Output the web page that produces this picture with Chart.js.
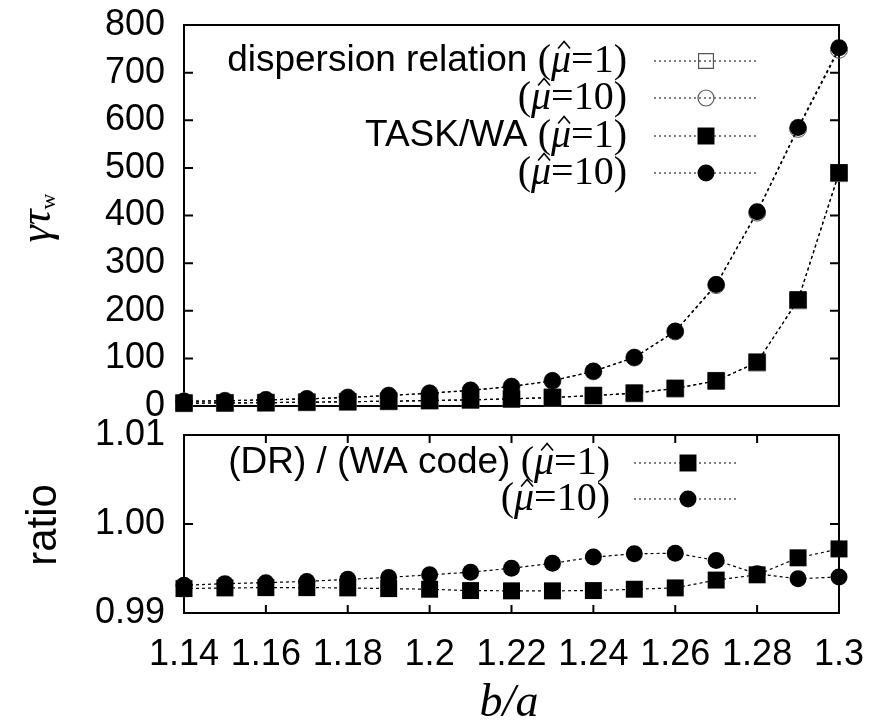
<!DOCTYPE html>
<html>
<head>
<meta charset="utf-8">
<script src="https://cdn.jsdelivr.net/npm/chart.js@4.4.1/dist/chart.umd.min.js"></script>
<style>
  html, body { margin: 0; padding: 0; background: #fff; }
  #wrap { position: relative; width: 872px; height: 722px; overflow: hidden; }
  #topChart { position: absolute; left: 0; top: 0; }
  #ratioChart { position: absolute; left: 0; top: 410px; }
</style>
</head>
<body>
<div id="wrap">
  <canvas id="topChart" width="872" height="430"></canvas>
  <canvas id="ratioChart" width="872" height="312"></canvas>
</div>

<script>
// ================= DATA =================

const bOverA = [1.14, 1.15, 1.16, 1.17, 1.18, 1.19, 1.20, 1.21, 1.22, 1.23, 1.24, 1.25, 1.26, 1.27, 1.28, 1.29, 1.30];

// growth rate (gamma * tau_w)
const drMu1  = [6, 6.5, 7, 8, 9, 10, 11.4, 12.9, 14.9, 17.9, 21.8, 26.8, 36.7, 52.7, 91.5, 222, 489];
const drMu10 = [9.9, 10.9, 12.9, 14.9, 17.9, 21.9, 26.8, 32.8, 40.8, 52.8, 72.7, 101.7, 156.5, 254, 406, 582, 748];
const waMu1  = [6, 6.5, 7, 8, 9, 10, 11.5, 13, 15, 18, 22, 27, 37, 53, 92, 223, 490];
const waMu10 = [10, 11, 13, 15, 18, 22, 27, 33, 41, 53, 73, 102, 157, 255, 408, 585, 752];

// ratio (DR) / (WA code)
const ratioMu1  = [0.99274, 0.99282, 0.99285, 0.99285, 0.99282, 0.99274, 0.99267, 0.99252, 0.99249, 0.99249, 0.99252, 0.99267, 0.99282, 0.99370, 0.99429, 0.99620, 0.99720];
const ratioMu10 = [0.99311, 0.99330, 0.99341, 0.99355, 0.99378, 0.99400, 0.99429, 0.99459, 0.99503, 0.99558, 0.99628, 0.99665, 0.99672, 0.99591, 0.99440, 0.99385, 0.99405];

const xTickValues = [1.14, 1.16, 1.18, 1.20, 1.22, 1.24, 1.26, 1.28, 1.30];
const xTickLabels = ["1.14", "1.16", "1.18", "1.2", "1.22", "1.24", "1.26", "1.28", "1.3"];
const gammaTicks  = [0, 100, 200, 300, 400, 500, 600, 700, 800];
const ratioTickValues = [0.99, 1.00, 1.01];
const ratioTickLabels = ["0.99", "1.00", "1.01"];


// ================= HELPERS =================

const SANS = "'Liberation Sans', Arial, sans-serif";
const SERIF = "'Liberation Serif', 'Times New Roman', serif";

function points(ys) {
  return bOverA.map((x, i) => ({ x: x, y: ys[i] }));
}

function series(label, ys, style, filled, order) {
  return {
    label: label,
    data: points(ys),
    order: order,
    clip: false,
    borderColor: "#000",
    borderWidth: 1.2,
    borderDash: [3, 3],
    pointStyle: style,
    pointRadius: style === "rect" ? 12 : 8.5,
    pointBorderWidth: filled ? 0 : 1,
    pointBorderColor: filled ? "#000" : "#555",
    pointBackgroundColor: filled ? "#000" : "rgba(0,0,0,0)",
    tension: 0
  };
}

// mixed font text "(mu-hat=val)", drawn right aligned
function muText(prefix, val) {
  const segs = [];
  if (prefix) segs.push({ t: prefix, f: "37px " + SANS });
  segs.push({ t: "(", f: "40px " + SERIF });
  segs.push({ t: "\u03bc", f: "italic 40px " + SERIF, hat: true });
  segs.push({ t: "=" + val + ")", f: "40px " + SERIF });
  return segs;
}

function drawSegs(ctx, segs, right, y) {
  let w = 0;
  segs.forEach(s => { ctx.font = s.f; w += ctx.measureText(s.t).width; });
  let x = right - w;
  ctx.textAlign = "left";
  ctx.textBaseline = "middle";
  segs.forEach(s => {
    ctx.font = s.f;
    const m = ctx.measureText(s.t);
    ctx.fillText(s.t, x, y);
    if (s.hat) {
      const cx = x + m.width / 2 + 3;
      const top = y - m.actualBoundingBoxAscent - 4;
      ctx.save();
      ctx.beginPath();
      ctx.lineWidth = 1.6;
      ctx.strokeStyle = "#000";
      ctx.moveTo(cx - 6, top);
      ctx.lineTo(cx, top - 7);
      ctx.lineTo(cx + 6, top);
      ctx.stroke();
      ctx.restore();
    }
    x += m.width;
  });
}

function drawLegend(ctx, rows, textRight, x1, x2, mx) {
  ctx.save();
  ctx.fillStyle = "#000";
  rows.forEach(r => {
    drawSegs(ctx, r.segs, textRight, r.y);
    ctx.beginPath();
    ctx.setLineDash([2, 3]);
    ctx.lineWidth = 1.2;
    ctx.strokeStyle = "#000";
    ctx.moveTo(x1, r.y);
    ctx.lineTo(x2, r.y);
    ctx.stroke();
    ctx.setLineDash([]);
    ctx.fillStyle = r.filled ? "#000" : "rgba(0,0,0,0)";
    ctx.strokeStyle = r.filled ? "#000" : "#555";
    Chart.helpers.drawPoint(ctx, {
      pointStyle: r.style,
      radius: r.style === "rect" ? (r.filled ? 12 : 10.5) : (r.filled ? 8.5 : 8),
      borderWidth: r.filled ? 0 : 1,
      rotation: 0
    }, mx, r.y);
    ctx.fillStyle = "#000";
  });
  ctx.restore();
}

// border plus inward tics, gnuplot style
function frame(xTicks, yTicks) {
  return {
    id: "frame",
    beforeDatasetsDraw(chart) {
      const { ctx, chartArea: a } = chart;
      const xs = chart.scales.x, ys = chart.scales.y;
      ctx.save();
      ctx.strokeStyle = "#000";
      ctx.lineWidth = 2;
      ctx.strokeRect(a.left, a.top, a.right - a.left, a.bottom - a.top);
      ctx.beginPath();
      xTicks.forEach(v => {
        const px = xs.getPixelForValue(v);
        ctx.moveTo(px, a.bottom); ctx.lineTo(px, a.bottom - 8);
        ctx.moveTo(px, a.top); ctx.lineTo(px, a.top + 8);
      });
      yTicks.forEach(v => {
        const py = ys.getPixelForValue(v);
        ctx.moveTo(a.left, py); ctx.lineTo(a.left + 9, py);
        ctx.moveTo(a.right, py); ctx.lineTo(a.right - 9, py);
      });
      ctx.stroke();
      ctx.restore();
    }
  };
}

function fitY(s) {
  s.width = 184;
  s.paddingTop = 0;
  s.paddingBottom = 0;
}


// ================= TOP CHART =================

const topLabels = {
  id: "topLabels",
  afterDraw(chart) {
    const ctx = chart.ctx;
    ctx.save();
    ctx.fillStyle = "#000";
    // y title: gamma tau_w, rotated
    ctx.translate(38, 218);
    ctx.rotate(-Math.PI / 2);
    ctx.textBaseline = "alphabetic";
    ctx.textAlign = "left";
    ctx.font = "italic 44px " + SERIF;
    const main = "\u03b3\u03c4";
    const w1 = ctx.measureText(main).width;
    ctx.font = "22px " + SERIF;
    const w2 = ctx.measureText("w").width;
    const x0 = -(w1 + w2) / 2;
    ctx.font = "italic 44px " + SERIF;
    ctx.fillText(main, x0, 12);
    ctx.font = "22px " + SERIF;
    ctx.fillText("w", x0 + w1, 17);
    ctx.restore();

    drawLegend(ctx, [
      { segs: muText("dispersion relation ", 1), y: 61, style: "rect", filled: false },
      { segs: muText("", 10), y: 98, style: "circle", filled: false },
      { segs: muText("TASK/WA ", 1), y: 136, style: "rect", filled: true },
      { segs: muText("", 10), y: 173, style: "circle", filled: true }
    ], 627, 654, 758, 706);
  }
};

new Chart(document.getElementById("topChart"), {
  type: "line",
  data: {
    datasets: [
      series("dispersion relation (mu=1)", drMu1, "rect", false, 3),
      series("dispersion relation (mu=10)", drMu10, "circle", false, 2),
      series("TASK/WA (mu=1)", waMu1, "rect", true, 1),
      series("TASK/WA (mu=10)", waMu10, "circle", true, 0)
    ]
  },
  options: {
    responsive: false,
    animation: false,
    layout: { padding: { top: 25, right: 33, bottom: 24, left: 0 } },
    plugins: { legend: { display: false }, tooltip: { enabled: false } },
    scales: {
      x: { type: "linear", min: 1.14, max: 1.30, display: false },
      y: {
        type: "linear",
        min: 0,
        max: 800,
        afterBuildTicks: s => { s.ticks = gammaTicks.map(v => ({ value: v })); },
        afterFit: fitY,
        grid: { display: false, drawTicks: false },
        border: { display: false },
        ticks: {
          color: "#000",
          padding: 19,
          font: { family: SANS, size: 36 },
          callback: v => String(v)
        }
      }
    }
  },
  plugins: [frame([], gammaTicks), topLabels]
});


// ================= RATIO CHART =================

const ratioLabels = {
  id: "ratioLabels",
  afterDraw(chart) {
    const ctx = chart.ctx;
    ctx.save();
    ctx.fillStyle = "#000";
    ctx.translate(44, 115);
    ctx.rotate(-Math.PI / 2);
    ctx.textAlign = "center";
    ctx.textBaseline = "middle";
    ctx.font = "42px " + SANS;
    ctx.fillText("ratio", 0, 0);
    ctx.restore();

    ctx.save();
    ctx.fillStyle = "#000";
    ctx.textAlign = "center";
    ctx.textBaseline = "alphabetic";
    ctx.font = "italic 46px " + SERIF;
    ctx.fillText("b/a", 509, 306);
    ctx.restore();

    drawLegend(ctx, [
      { segs: muText("(DR) / (WA code) ", 1), y: 53, style: "rect", filled: true },
      { segs: muText("", 10), y: 89, style: "circle", filled: true }
    ], 610, 634, 737, 688);
  }
};

new Chart(document.getElementById("ratioChart"), {
  type: "line",
  data: {
    datasets: [
      series("(DR)/(WA code) (mu=1)", ratioMu1, "rect", true, 1),
      series("(DR)/(WA code) (mu=10)", ratioMu10, "circle", true, 0)
    ]
  },
  options: {
    responsive: false,
    animation: false,
    layout: { padding: { top: 25, right: 33, bottom: 0, left: 0 } },
    plugins: { legend: { display: false }, tooltip: { enabled: false } },
    scales: {
      x: {
        type: "linear",
        min: 1.14,
        max: 1.30,
        afterBuildTicks: s => { s.ticks = xTickValues.map(v => ({ value: v })); },
        afterFit: s => { s.height = 109; s.paddingLeft = 0; s.paddingRight = 0; },
        grid: { display: false, drawTicks: false },
        border: { display: false },
        ticks: {
          color: "#000",
          padding: 20,
          autoSkip: false,
          maxRotation: 0,
          font: { family: SANS, size: 36 },
          callback: (v, i) => xTickLabels[i]
        }
      },
      y: {
        type: "linear",
        min: 0.99,
        max: 1.01,
        afterBuildTicks: s => { s.ticks = ratioTickValues.map(v => ({ value: v })); },
        afterFit: fitY,
        grid: { display: false, drawTicks: false },
        border: { display: false },
        ticks: {
          color: "#000",
          padding: 19,
          font: { family: SANS, size: 36 },
          callback: (v, i) => ratioTickLabels[i]
        }
      }
    }
  },
  plugins: [frame(xTickValues, [1.00]), ratioLabels]
});
</script>
</body>
</html>
